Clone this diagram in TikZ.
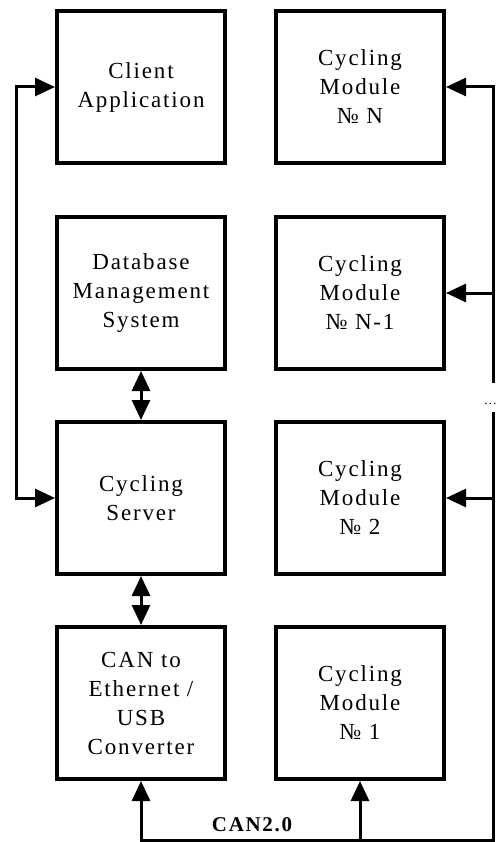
\documentclass[tikz,border=0pt]{standalone}
\usepackage{fontspec}
\setmainfont{Liberation Serif}[LetterSpace=8]
\usetikzlibrary{arrows.meta}
\begin{document}
\begin{tikzpicture}[x=1pt,y=-1pt,
  box/.style={draw, line width=4pt, minimum width=168pt, minimum height=152pt,
    align=center, inner sep=0pt, font=\fontsize{23}{29}\selectfont},
  wire/.style={line width=3pt},
  conn/.style={wire, -{Triangle[length=20pt,width=18pt]}},
  dconn/.style={wire, {Triangle[length=20pt,width=18pt]}-{Triangle[length=20pt,width=18pt]}},
  buslabel/.style={font=\fontsize{21}{25}\selectfont\bfseries, inner sep=0pt}
]
\useasboundingbox (0,0) rectangle (497,842);

\node[box] (client) at (141,87)  {Client\\Application};
\node[box] (dbms)   at (141,293) {Database\\Management\\System};
\node[box] (server) at (141,498) {Cycling\\Server};
\node[box] (can)    at (141,703) {CAN to\\Ethernet /\\USB\\Converter};

\node[box] (modN)  at (360,87)  {Cycling\\Module\\№ N};
\node[box] (modN1) at (360,293) {Cycling\\Module\\№ N-1};
\node[box] (mod2)  at (360,498) {Cycling\\Module\\№ 2};
\node[box] (mod1)  at (360,703) {Cycling\\Module\\№ 1};

% left link client <-> server
\coordinate (lbend) at (16,498);
\draw[dconn] (client.west) -| (lbend) -- (server.west);

% vertical double arrows
\draw[dconn] (dbms.south) -- (server.north);
\draw[dconn] (server.south) -- (can.north);

% right bus line
\coordinate (rtop) at (493,87);
\coordinate (rgapA) at (493,383);
\coordinate (rgapB) at (493,412);
\coordinate (rbot) at (493,840);
\draw[conn] (rgapA) -- (rtop) -- (modN.east);
\draw[conn] (modN1.east -| rtop) -- (modN1.east);
\draw[conn] (mod2.east -| rtop) -- (mod2.east);
\draw[conn] (rgapB) -- (rbot) -| (can.south);
\draw[conn] (mod1.south |- rbot) -- (mod1.south);

\node[font=\fontsize{13}{15}\selectfont, inner sep=0pt, anchor=base east] (dots) at (496.5,404) {...};

\node[buslabel] (canlbl) at (252,825) {CAN2.0};
\end{tikzpicture}
\end{document}
